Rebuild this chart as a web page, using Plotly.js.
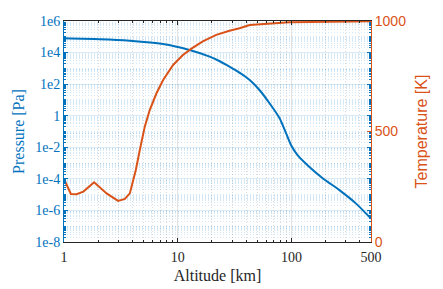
<!DOCTYPE html>
<html>
<head>
<meta charset="utf-8">
<script src="https://cdn.plot.ly/plotly-3.0.1.min.js"></script>
<style>html,body{margin:0;padding:0;background:#fff;}#chart{width:443px;height:289px;}</style>
</head>
<body>
<div id="chart"></div>
<script>
// Pressure profile
const altP = [1, 2.07, 3.79, 7.44, 12.7, 19.1, 23.4, 28.5, 34.9, 42.9, 52.3, 64.1, 78.6, 89.5, 99, 113, 143, 188, 262, 368, 500];
const pressure = [79400, 70000, 56200, 34700, 14500, 5500, 2820, 1290, 537, 182, 42.7, 6.17, 0.69, 0.078, 0.0141, 0.0032, 5.9e-4, 1.1e-4, 2.0e-5, 2.8e-6, 3.0e-7];
// Temperature profile
const altT = [1, 1.15, 1.29, 1.48, 1.84, 2.37, 2.99, 3.43, 3.79, 4.05, 4.28, 4.64, 5.13, 5.67, 6.5, 7.44, 9.1, 11.1, 13.2, 16.6, 21.8, 28.5, 34.9, 42.9, 96, 500];
const temperature = [285, 217, 216, 228, 270, 220, 186, 195, 220, 281, 326, 416, 522, 597, 673, 733, 801, 846, 875, 908, 937, 956, 967, 982, 994, 999];
// Tick labels
const xTicks = [1, 10, 100, 500];
const xTickText = ['1', '10', '100', '500'];
const yTicks = [1e-8, 1e-6, 1e-4, 1e-2, 1, 1e2, 1e4, 1e6];
const yTickText = ['1e-8', '1e-6', '1e-4', '1e-2', '1', '1e2', '1e4', '1e6'];
const y2Ticks = [0, 500, 1000];

const BLUE = '#0072BD', ORANGE = '#D95319', DARK = '#262626';

const xMinor = [];
for (let k = 0; k <= 2; k++) for (let m = 2; m <= 9; m++) { const v = m * Math.pow(10, k); if (v < 500) xMinor.push(v); }
const yMinor = [];
for (let k = -8; k <= 5; k++) for (let m = 1; m <= 9; m++) {
  if (m === 1 && k % 2 === 0) continue;
  yMinor.push(m * Math.pow(10, k));
}

const traces = [
  {x: altP, y: pressure, type: 'scatter', mode: 'lines', yaxis: 'y',
   line: {color: BLUE, width: 2, shape: 'spline', smoothing: 0.7}, hoverinfo: 'skip'},
  {x: altT, y: temperature, type: 'scatter', mode: 'lines', yaxis: 'y2',
   line: {color: ORANGE, width: 2, shape: 'linear'}, hoverinfo: 'skip'}
];

const serif = 'Liberation Serif, Times New Roman, serif';
const sans = 'Liberation Sans, Arial, sans-serif';

const layout = {
  width: 443, height: 289,
  margin: {l: 64, r: 72, t: 21, b: 47},
  paper_bgcolor: '#fff', plot_bgcolor: '#fff',
  showlegend: false,
  xaxis: {
    type: 'log', range: [0, Math.log10(500)],
    tickmode: 'array', tickvals: xTicks, ticktext: xTickText,
    tickfont: {family: serif, size: 14, color: DARK}, ticklabelstandoff: 2,
    ticks: 'inside', ticklen: 4, tickcolor: DARK, tickwidth: 1,
    showline: true, linecolor: DARK, linewidth: 1, mirror: 'ticks',
    showgrid: true, gridcolor: 'rgba(38,38,38,0.13)', gridwidth: 1,
    minor: {tickmode: 'array', tickvals: xMinor, ticks: 'inside', ticklen: 2, tickcolor: DARK,
            showgrid: true, gridcolor: 'rgba(38,38,38,0.16)', griddash: '1px,2px', gridwidth: 1},
    zeroline: false,
    title: {text: 'Altitude [km]', font: {family: serif, size: 16, color: DARK}, standoff: 6}
  },
  yaxis: {
    type: 'log', range: [-8, 6],
    tickmode: 'array', tickvals: yTicks, ticktext: yTickText,
    tickfont: {family: serif, size: 14, color: BLUE},
    ticks: 'inside', ticklen: 4, tickcolor: BLUE, tickwidth: 1,
    showline: true, linecolor: BLUE, linewidth: 1, mirror: 'ticks',
    showgrid: true, gridcolor: 'rgba(0,114,189,0.14)', gridwidth: 1,
    minor: {tickmode: 'array', tickvals: yMinor, ticks: 'inside', ticklen: 2, tickcolor: BLUE,
            showgrid: true, gridcolor: 'rgba(0,114,189,0.17)', griddash: '1px,2px', gridwidth: 1},
    zeroline: false,
    title: {text: 'Pressure [Pa]', font: {family: serif, size: 16, color: BLUE}, standoff: 6}
  },
  yaxis2: {
    overlaying: 'y', side: 'right', range: [0, 1000],
    tickmode: 'array', tickvals: y2Ticks,
    tickfont: {family: sans, size: 14, color: ORANGE},
    ticks: 'inside', ticklen: 4, tickcolor: ORANGE, tickwidth: 1,
    showline: true, linecolor: ORANGE, linewidth: 1,
    showgrid: false, zeroline: false,
    title: {text: 'Temperature [K]', font: {family: sans, size: 16, color: ORANGE}, standoff: 10}
  }
};

Plotly.newPlot('chart', traces, layout, {staticPlot: true, displayModeBar: false});
</script>
</body>
</html>
